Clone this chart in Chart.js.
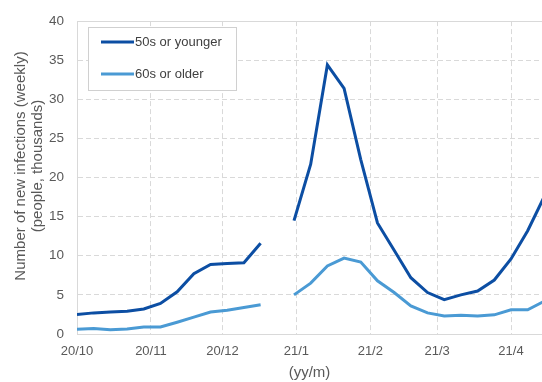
<!DOCTYPE html>
<html>
<head>
<meta charset="utf-8">
<script src="https://cdn.jsdelivr.net/npm/chart.js@4.4.1/dist/chart.umd.min.js"></script>
<style>
  body { margin: 0; background: #fff; }
  .chart-box { width: 542px; height: 382px; }
</style>
</head>
<body>
<div class="chart-box"><canvas id="infections"></canvas></div>
<script>
// weekly data points (null = week without data)
const weeks = [
  "2020-10-01", "2020-10-08", "2020-10-15", "2020-10-22", "2020-10-29",
  "2020-11-05", "2020-11-12", "2020-11-19", "2020-11-26",
  "2020-12-03", "2020-12-10", "2020-12-17", "2020-12-24", "2020-12-31",
  "2021-01-07", "2021-01-14", "2021-01-21", "2021-01-28",
  "2021-02-04", "2021-02-11", "2021-02-18", "2021-02-25",
  "2021-03-04", "2021-03-11", "2021-03-18", "2021-03-25",
  "2021-04-01", "2021-04-08", "2021-04-15"
];
const under60 = [2.5, 2.7, 2.8, 2.9, 3.2, 3.9, 5.4, 7.7, 8.9, 9.0, 9.1, 11.6, null,
  14.5, 21.7, 34.4, 31.4, 22.3, 14.2, 10.7, 7.2, 5.3, 4.4, 5.0, 5.5, 6.9, 9.6, 13.2, 17.6];
const over60 = [0.6, 0.7, 0.55, 0.65, 0.9, 0.9, 1.5, 2.15, 2.8, 3.05, 3.4, 3.75, null,
  5.0, 6.5, 8.7, 9.7, 9.2, 6.8, 5.3, 3.6, 2.7, 2.3, 2.4, 2.3, 2.45, 3.1, 3.1, 4.2];
const seriesNames = ["50s or younger", "60s or older"];

// month tick marks on the x axis
const monthStarts = ["2020-10-01", "2020-11-01", "2020-12-01", "2021-01-01", "2021-02-01", "2021-03-01", "2021-04-01"];
const monthLabels = ["20/10", "20/11", "20/12", "21/1", "21/2", "21/3", "21/4"];
const lastDay = "2021-04-14";
const yTitle = ["Number of new infections (weekly)", "(people, thousands)"];

const origin = Date.parse(monthStarts[0]);
const toDay = d => (Date.parse(d) - origin) / 864e5;
const monthDays = monthStarts.map(toDay);

const gridColor = "#d9d9d9";
const tickColor = "#595959";
const fontFamily = "'Liberation Sans', Arial, sans-serif";

// legend box inside the plot + the two-line y title
const extras = {
  id: "extras",
  afterDraw(chart) {
    const c = chart.ctx;
    c.save();
    c.fillStyle = "#fff";
    c.strokeStyle = "#d0d0d0";
    c.lineWidth = 1;
    c.fillRect(88, 27, 148, 63);
    c.strokeRect(88.5, 27.5, 148, 63);
    c.font = "13px " + fontFamily;
    c.textBaseline = "middle";
    chart.data.datasets.forEach((ds, i) => {
      const y = 42 + i * 32;
      c.strokeStyle = ds.borderColor;
      c.lineWidth = 3;
      c.beginPath();
      c.moveTo(101, y);
      c.lineTo(134, y);
      c.stroke();
      c.fillStyle = "#404040";
      c.fillText(ds.label, 135, y + 0.5);
    });

    // y axis title, rotated
    c.translate(21, 166);
    c.rotate(-Math.PI / 2);
    c.font = "15px " + fontFamily;
    c.fillStyle = tickColor;
    c.textAlign = "center";
    c.textBaseline = "middle";
    yTitle.forEach((t, i) => c.fillText(t, 0, i * 17));
    c.restore();
  }
};

const ctx = document.getElementById("infections");
new Chart(ctx, {
  type: "line",
  data: {
    datasets: [
      {
        label: seriesNames[0],
        data: weeks.map((w, i) => ({ x: toDay(w), y: under60[i] })),
        borderColor: "#0c4ea3",
        borderWidth: 3,
      },
      {
        label: seriesNames[1],
        data: weeks.map((w, i) => ({ x: toDay(w), y: over60[i] })),
        borderColor: "#4a9ad4",
        borderWidth: 3,
      },
    ],
  },
  options: {
    responsive: true,
    maintainAspectRatio: false,
    animation: false,
    spanGaps: false,
    elements: {
      point: { radius: 0 },
      line: { tension: 0, borderCapStyle: "butt", borderJoinStyle: "miter" },
    },
    layout: { padding: { left: 0, right: 0, top: 15, bottom: 0 } },
    plugins: {
      legend: { display: false },
      tooltip: { enabled: false },
    },
    scales: {
      x: {
        type: "linear",
        min: 0,
        max: toDay(lastDay),
        afterBuildTicks: scale => {
          scale.ticks = monthDays.map(v => ({ value: v }));
        },
        afterFit: scale => { scale.height = 48; },
        ticks: {
          autoSkip: false,
          maxRotation: 0,
          padding: 10,
          color: tickColor,
          font: { family: fontFamily, size: 13 },
          callback: v => monthLabels[monthDays.indexOf(v)],
        },
        grid: { color: gridColor, drawTicks: false },
        border: { display: true, color: gridColor, dash: [5, 3] },
        title: {
          display: true,
          text: "(yy/m)",
          color: tickColor,
          font: { family: fontFamily, size: 15 },
          padding: { top: 0, bottom: 0 },
        },
      },
      y: {
        min: 0,
        max: 40,
        afterFit: scale => { scale.width = 77; },
        ticks: {
          stepSize: 5,
          padding: 13,
          color: tickColor,
          font: { family: fontFamily, size: 13.5 },
        },
        grid: { color: gridColor, drawTicks: false },
        border: {
          display: true,
          color: gridColor,
          dash: c => (c.tick && c.tick.value === 40 ? [] : [5, 3]),
        },
      },
    },
  },
  plugins: [extras],
});
</script>
</body>
</html>
